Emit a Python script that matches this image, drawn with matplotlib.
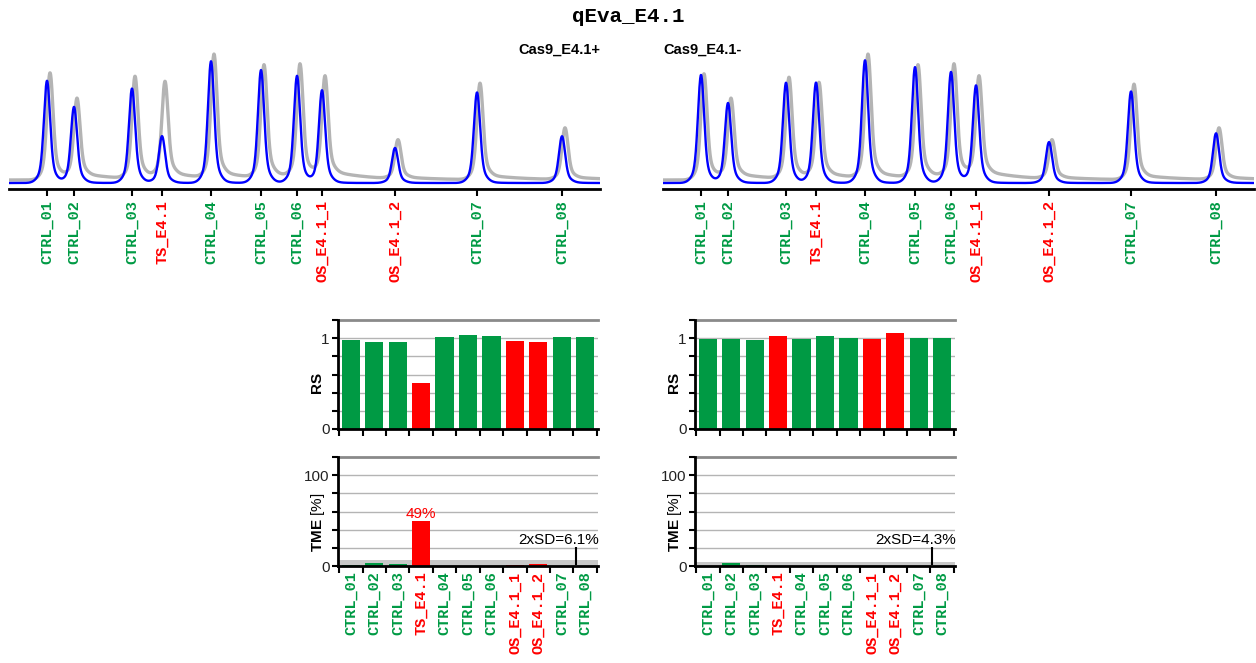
import numpy as np
import matplotlib.pyplot as plt
from matplotlib.ticker import FixedLocator, FixedFormatter

plt.rcParams['font.family'] = ['Liberation Sans', 'DejaVu Sans']
plt.rcParams['mathtext.fontset'] = 'custom'
plt.rcParams['mathtext.rm'] = 'Liberation Sans'
plt.rcParams['mathtext.bf'] = 'Liberation Sans:bold'

title = "qEva_E4.1"
samples = ["CTRL_01", "CTRL_02", "CTRL_03", "TS_E4.1", "CTRL_04", "CTRL_05",
           "CTRL_06", "OS_E4.1_1", "OS_E4.1_2", "CTRL_07", "CTRL_08"]
panels = ["Cas9_E4.1+", "Cas9_E4.1-"]

# fragment positions on the trace axis
peak_pos = [38, 65, 123, 153, 202, 252, 288, 313, 386, 468, 553]

# peak heights: treated (blue) and control (gray) traces
blue_left = [111, 84, 103, 54, 131, 122, 116, 101, 42, 99, 54]
gray_left = [119, 90, 114, 107, 136, 125, 125, 111, 49, 108, 62]
blue_right = [117, 88, 109, 109, 132, 125, 120, 106, 48, 100, 57]
gray_right = [118, 90, 113, 106, 136, 125, 125, 111, 49, 107, 62]

# relative signal
rs_left = [0.978, 0.956, 0.956, 0.511, 1.011, 1.033, 1.022, 0.967, 0.956, 1.011, 1.011]
rs_right = [0.996, 0.996, 0.985, 1.029, 0.996, 1.029, 1.007, 0.996, 1.062, 1.007, 1.007]

# target modification efficiency [%]
tme_left = [1.0, 3.7, 2.6, 49, 0, 0, 0, 1.5, 2.6, 0, 0]
tme_right = [0, 3.7, 1.5, 0, 0, 0, 0, 0, 0, 0, 0]
sd_left = 6.1
sd_right = 4.3

GREEN = '#009a44'
RED = '#ff0000'
MONO = 'Liberation Mono'

W, H = 1256, 663


def sample_color(name):
    return GREEN if name.startswith('CTRL') else RED


def make_trace(x, heights, base, shift, tail, tau):
    y = np.full_like(x, base, dtype=float)
    for p, h in zip(peak_pos, heights):
        c = p + shift
        a = (h - base) * 0.97
        y += a * (0.82 * np.exp(-0.5 * ((x - c) / 2.9) ** 2)
                  + 0.18 * np.exp(-0.5 * ((x - c) / 6.5) ** 2))
        y += tail * a * np.exp(-np.clip(x - c, 0, None) / tau) / (1 + np.exp(-(x - c - 5) / 2))
    return y


def px_axes(fig, x0, y_top, x1, y_bot):
    return fig.add_axes([x0 / W, (H - y_bot) / H, (x1 - x0) / W, (y_bot - y_top) / H])


fig = plt.figure(figsize=(W / 100, H / 100), dpi=100)
fig.text(0.5, 1 - 17 / H, title, ha='center', va='center',
         family=MONO, weight='bold', fontsize=15)

x = np.linspace(0, 591, 2400)
for i, (blue, gray) in enumerate([(blue_left, gray_left), (blue_right, gray_right)]):
    x0 = 9 if i == 0 else 663
    ax = px_axes(fig, x0, 49, x0 + 591, 189)
    ax.plot(x, make_trace(x, gray, 9, 3, 0.06, 35), color='#b4b4b4', lw=2.4, zorder=2)
    ax.plot(x, make_trace(x, blue, 6, 0, 0.05, 8), color='#0000ff', lw=1.7, zorder=3)
    ax.set_xlim(0, 591)
    ax.set_ylim(0, 140)
    for s in ['left', 'right', 'top']:
        ax.spines[s].set_visible(False)
    ax.spines['bottom'].set_linewidth(2)
    ax.set_yticks([])
    ax.set_xticks(peak_pos)
    ax.set_xticklabels(samples, rotation=90, family=MONO, weight='bold', fontsize=11)
    for lbl, name in zip(ax.get_xticklabels(), samples):
        lbl.set_color(sample_color(name))
    ax.tick_params(axis='x', length=5, width=1.5, pad=3)
    if i == 0:
        fig.text((x0 + 591) / W, 1 - 50 / H, panels[i], ha='right', va='center',
                 weight='bold', fontsize=10.5)
    else:
        fig.text(x0 / W, 1 - 50 / H, panels[i], ha='left', va='center',
                 weight='bold', fontsize=10.5)


def bar_panel(ax, vals, ymax, step, shown, show_labels):
    colors = [sample_color(n) for n in samples]
    ax.bar(range(len(vals)), vals, width=0.78, color=colors, zorder=3)
    ax.set_xlim(-0.55, len(vals) - 0.45)
    ax.set_ylim(0, ymax)
    ticks = np.arange(0, ymax + step / 2, step)
    ax.yaxis.set_major_locator(FixedLocator(ticks))
    ax.yaxis.set_major_formatter(FixedFormatter(
        [shown.get(round(t, 3), '') for t in ticks]))
    for t in ticks[1:-1]:
        ax.axhline(t, color='#b4b4b4', lw=1, zorder=0)
    ax.axhline(ymax, color='#8a8a8a', lw=2, clip_on=False, zorder=1)
    for s in ['right', 'top']:
        ax.spines[s].set_visible(False)
    ax.spines['left'].set_linewidth(2)
    ax.spines['bottom'].set_linewidth(2)
    ax.spines['bottom'].set_zorder(5)
    ax.tick_params(axis='y', length=4, width=1.5, labelsize=11, pad=2, labelcolor='#222222')
    ax.set_xticks(range(len(vals)))
    ax.set_xticks(np.arange(-0.5, len(vals), 1), minor=True)
    ax.tick_params(axis='x', which='major', length=0, pad=4)
    ax.tick_params(axis='x', which='minor', length=5, width=1.5)
    if show_labels:
        ax.set_xticklabels(samples, rotation=90, family=MONO, weight='bold', fontsize=11)
        for lbl, name in zip(ax.get_xticklabels(), samples):
            lbl.set_color(sample_color(name))
    else:
        ax.set_xticklabels([])


for i, (rs, tme, sd) in enumerate([(rs_left, tme_left, sd_left),
                                   (rs_right, tme_right, sd_right)]):
    x0 = 338 if i == 0 else 695
    ax_rs = px_axes(fig, x0, 320, x0 + 260, 429)
    bar_panel(ax_rs, rs, 1.2, 0.2, {0.0: '0', 1.0: '1'}, False)
    ax_rs.text(-0.08, 0.43, 'RS', transform=ax_rs.transAxes, rotation=90,
               ha='center', va='center', weight='bold', fontsize=11)

    ax_t = px_axes(fig, x0, 457, x0 + 260, 566)
    bar_panel(ax_t, tme, 120, 20, {0: '0', 100: '100'}, True)
    ax_t.axhspan(0, sd, color='#c8c8c8', lw=0, zorder=2)
    ax_t.text(-0.078, 0.40, r'$\mathbf{TME}$ [%]', transform=ax_t.transAxes,
              rotation=90, ha='center', va='center', fontsize=11)
    for j, v in enumerate(tme):
        if v > sd:
            ax_t.text(j, v + 1, f'{v:.0f}%', color=RED, ha='center', va='bottom',
                      fontsize=11, zorder=4)
    sd_x = 9.6 if i == 0 else 9.55
    ax_t.vlines(sd_x, 1.5, 21, color='black', lw=1.5, zorder=4)
    ax_t.text(10.6, 20.5, f'2xSD={sd}%', ha='right', va='bottom', fontsize=11, zorder=4)

fig.savefig('out.png', dpi=100)
